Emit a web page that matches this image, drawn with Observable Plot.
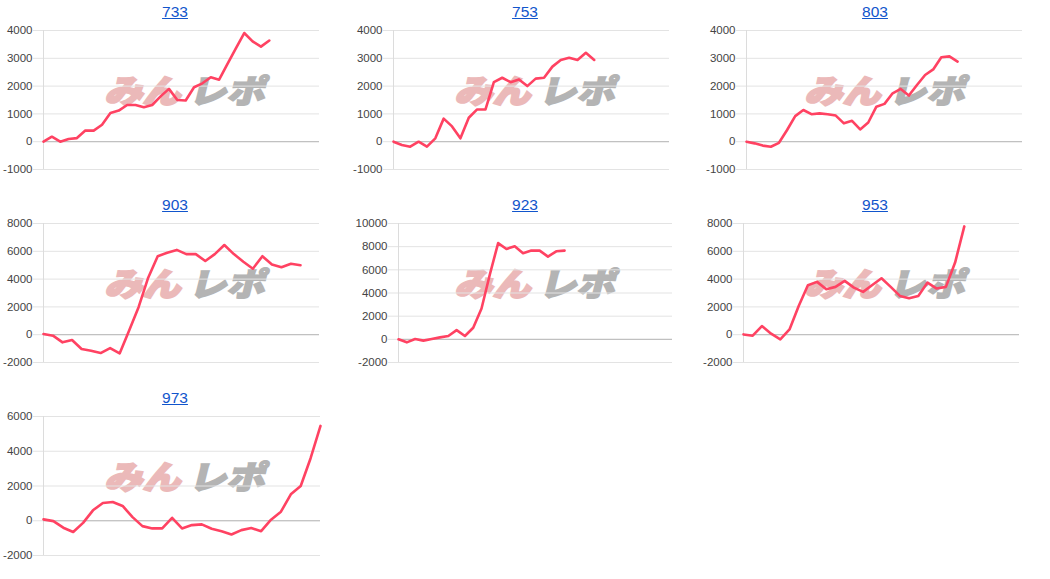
<!DOCTYPE html>
<html><head><meta charset="utf-8">
<script src="https://cdn.jsdelivr.net/npm/d3@7"></script>
<script src="https://cdn.jsdelivr.net/npm/@observablehq/plot@0.6"></script>
<style>
body{margin:0;background:#fff;font-family:Arial,"Liberation Sans",sans-serif;}
#root{position:relative;width:1050px;height:579px;overflow:hidden;}
.panel{position:absolute;width:350px;height:193px;}
.title{position:absolute;left:0;width:350px;top:3px;text-align:center;font-size:15.5px;line-height:18px;z-index:3;}
.title a{color:#1155cc;text-decoration:underline;}
.panel svg{position:absolute;left:0;top:20px;z-index:2;background:transparent;}
.wm{position:absolute;left:108px;top:68px;z-index:1;font-family:"Noto Sans CJK JP",sans-serif;font-weight:900;font-size:38px;line-height:42px;white-space:nowrap;transform:skewX(-14deg) scaleY(0.85);transform-origin:left center;letter-spacing:0px;}
.wm .a{color:#ebb9b9;-webkit-text-stroke:2.5px #ebb9b9;}
.wm .b{margin-left:8px;color:#b4b4b4;-webkit-text-stroke:2px #b4b4b4;}
</style>
</head><body>
<div id="root"></div>
<script>
const titles = ["733","753","803","903","923","953","973"];
const s733 = [0,180,0,100,130,400,400,610,1030,1120,1320,1320,1240,1320,1630,1900,1500,1480,1960,2100,2320,2230,2800,3360,3910,3610,3420,3640];
const s753 = [0,-120,-180,0,-180,120,830,550,120,860,1160,1160,2140,2300,2140,2240,2000,2270,2300,2700,2940,3020,2940,3200,2940];
const s803 = [0,-60,-140,-180,-40,420,920,1140,990,1020,990,940,660,750,440,690,1260,1360,1740,1900,1660,2040,2400,2600,3040,3070,2880];
const s903 = [50,-70,-550,-380,-1030,-1150,-1320,-960,-1350,300,2000,4100,5650,5900,6100,5800,5800,5300,5800,6450,5800,5250,4750,5650,5050,4850,5100,5000];
const s923 = [0,-260,30,-110,30,170,290,800,290,1000,2660,5600,8310,7800,8030,7430,7660,7660,7140,7600,7660];
const s953 = [20,-70,620,70,-340,380,2070,3560,3800,3270,3440,3870,3390,3080,3580,4060,3440,2790,2620,2790,3750,3320,3440,5190,7790];
const s973 = [80,-20,-400,-650,-120,600,1020,1080,850,210,-310,-440,-440,170,-440,-250,-210,-460,-600,-790,-540,-420,-600,60,520,1520,2000,3600,5460];
const series = [s733,s753,s803,s903,s923,s953,s973];
const xMax = [33,33,34,29,33,30,28];
const yTicks = [
  [-1000,0,1000,2000,3000,4000],
  [-1000,0,1000,2000,3000,4000],
  [-1000,0,1000,2000,3000,4000],
  [-2000,0,2000,4000,6000,8000],
  [-2000,0,2000,4000,6000,8000,10000],
  [-2000,0,2000,4000,6000,8000],
  [-2000,0,2000,4000,6000]
];
const mLeft = [43,43,46,43,48,43,43];
const mRight = [31,31,28,31,28,31,30];

const root = document.getElementById("root");
titles.forEach((t,i)=>{
  const col = i%3, row = Math.floor(i/3);
  const panel = document.createElement("div");
  panel.className = "panel";
  panel.style.left = (col*350)+"px";
  panel.style.top = (row*193)+"px";
  const title = document.createElement("div");
  title.className = "title";
  const a = document.createElement("a");
  a.href = "#"; a.textContent = t;
  title.appendChild(a);
  panel.appendChild(title);
  const wm = document.createElement("div");
  wm.className = "wm";
  wm.innerHTML = '<span class="a">みん</span><span class="b">レポ</span>';
  panel.appendChild(wm);
  const ticks = yTicks[i];
  const chart = Plot.plot({
    width: 350, height: 160,
    marginTop: 10, marginBottom: 11,
    marginLeft: mLeft[i], marginRight: mRight[i],
    style: {fontFamily: "Arial, 'Liberation Sans', sans-serif", fontSize: "11.5px", background: "transparent", overflow: "visible"},
    x: {domain: [0, xMax[i]], axis: null},
    y: {domain: [ticks[0], ticks[ticks.length-1]], axis: null},
    marks: [
      Plot.gridY(ticks, {stroke: "#e3e3e3", strokeOpacity: 1}),
      Plot.axisY(ticks, {tickSize: 10, tickPadding: 1, stroke: "#e3e3e3", fill: "#444", tickFormat: d => String(d), fontSize: 11.5}),
      Plot.ruleX([0], {stroke: "#dcdcdc"}),
      Plot.ruleY([0], {stroke: "#b8b8b8"}),
      Plot.lineY(series[i], {stroke: "#ff4262", strokeWidth: 2.6, curve: "linear"})
    ]
  });
  panel.appendChild(chart);
  root.appendChild(panel);
});
</script>
</body></html>
